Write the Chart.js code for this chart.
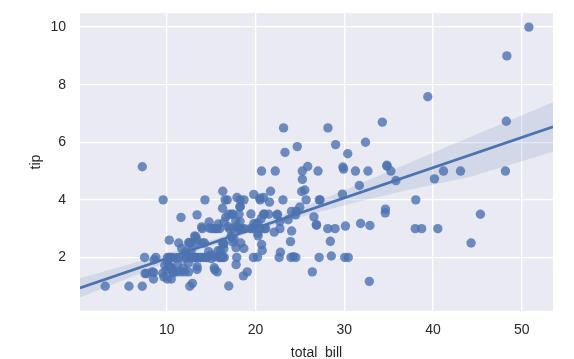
<!DOCTYPE html>
<html>
<head>
<meta charset="utf-8">
<script src="https://cdn.jsdelivr.net/npm/chart.js@4.4.1/dist/chart.umd.min.js"></script>
<style>
  html, body { margin: 0; padding: 0; background: #fff; }
  #wrap { width: 574px; height: 359px; }
</style>
</head>
<body>
<div id="wrap"><canvas id="tipsChart" width="574" height="359"></canvas></div>
<script>
// tips data: total_bill vs tip
var totalBill = [16.99,10.34,21.01,23.68,24.59,25.29,8.77,26.88,15.04,14.78,10.27,35.26,15.42,18.43,14.83,21.58,10.33,16.29,16.97,20.65,
  17.92,20.29,15.77,39.42,19.82,17.81,13.37,12.69,21.7,19.65,9.55,18.35,15.06,20.69,17.78,24.06,16.31,16.93,18.69,31.27,
  16.04,17.46,13.94,9.68,30.4,18.29,22.23,32.4,28.55,18.04,12.54,10.29,34.81,9.94,25.56,19.49,38.01,26.41,11.24,48.27,
  20.29,13.81,11.02,18.29,17.59,20.08,16.45,3.07,20.23,15.01,12.02,17.07,26.86,25.28,14.73,10.51,17.92,27.2,22.76,17.29,
  19.44,16.66,10.07,32.68,15.98,34.83,13.03,18.28,24.71,21.16,28.97,22.49,5.75,16.32,22.75,40.17,27.28,12.03,21.01,12.46,
  11.35,15.38,44.3,22.42,20.92,15.36,20.49,25.21,18.24,14.31,14.0,7.25,38.07,23.95,25.71,17.31,29.93,10.65,12.43,24.08,
  11.69,13.42,14.26,15.95,12.48,29.8,8.52,14.52,11.38,22.82,19.08,20.27,11.17,12.26,18.26,8.51,10.33,14.15,16.0,13.16,
  17.47,34.3,41.19,27.05,16.43,8.35,18.64,11.87,9.78,7.51,14.07,13.13,17.26,24.55,19.77,29.85,48.17,25.0,13.39,16.49,
  21.5,12.66,16.21,13.81,17.51,24.52,20.76,31.71,10.59,10.63,50.81,15.81,7.25,31.85,16.82,32.9,17.89,14.48,9.6,34.63,
  34.65,23.33,45.35,23.17,40.55,20.69,20.9,30.46,18.15,23.1,15.69,19.81,28.44,15.48,16.58,7.56,10.34,43.11,13.0,13.51,
  18.71,12.74,13.0,16.4,20.53,16.47,26.59,38.73,24.27,12.76,30.06,25.89,48.33,13.27,28.17,12.9,28.15,11.59,7.74,30.14,
  12.16,13.42,8.58,15.98,13.42,16.27,10.09,20.45,13.28,22.12,24.01,15.69,11.61,10.77,15.53,10.07,12.6,32.83,35.83,29.03,
  27.18,22.67,17.82,18.78];
var tip = [1.01,1.66,3.5,3.31,3.61,4.71,2.0,3.12,1.96,3.23,1.71,5.0,1.57,3.0,3.02,3.92,1.67,3.71,3.5,3.35,
  4.08,2.75,2.23,7.58,3.18,2.34,2.0,2.0,4.3,3.0,1.45,2.5,3.0,2.45,3.27,3.6,2.0,3.07,2.31,5.0,
  2.24,2.54,3.06,1.32,5.6,3.0,5.0,6.0,2.05,3.0,2.5,2.6,5.2,1.56,4.34,3.51,3.0,1.5,1.76,6.73,
  3.21,2.0,1.98,3.76,2.64,3.15,2.47,1.0,2.01,2.09,1.97,3.0,3.14,5.0,2.2,1.25,3.08,4.0,3.0,2.71,
  3.0,3.4,1.83,5.0,2.03,5.17,2.0,4.0,5.85,3.0,3.0,3.5,1.0,4.3,3.25,4.73,4.0,1.5,3.0,1.5,
  2.5,3.0,2.5,3.48,4.08,1.64,4.06,4.29,3.76,4.0,3.0,1.0,4.0,2.55,4.0,3.5,5.07,1.5,1.8,2.92,
  2.31,1.68,2.5,2.0,2.52,4.2,1.48,2.0,2.0,2.18,1.5,2.83,1.5,2.0,3.25,1.25,2.0,2.0,2.0,2.75,
  3.5,6.7,5.0,5.0,2.3,1.5,1.36,1.63,1.73,2.0,2.5,2.0,2.74,2.0,2.0,5.14,5.0,3.75,2.61,2.0,
  3.5,2.5,2.0,2.0,3.0,3.48,2.24,4.5,1.61,2.0,10.0,3.16,5.15,3.18,4.0,3.11,2.0,2.0,4.0,3.55,
  3.68,5.65,3.5,6.5,3.0,5.0,3.5,2.0,3.5,4.0,1.5,4.19,2.56,2.02,4.0,1.44,2.0,5.0,2.0,2.0,
  4.0,2.01,2.0,2.5,4.0,3.23,3.41,3.0,2.03,2.23,2.0,5.16,9.0,2.5,6.5,1.1,3.0,1.5,1.44,3.09,
  2.2,3.48,1.92,3.0,1.58,2.5,2.0,3.0,2.72,2.88,2.0,3.0,3.39,1.47,3.0,1.25,1.0,1.17,4.67,5.92,
  2.0,2.0,1.75,3.0];

// regression line and its confidence band
var fitX = [0.23, 53.53];
var fitY = [0.94, 6.54];
var bandX = [0.23, 5, 10, 15, 20, 25, 30, 36.3, 44.2, 53.53];
var bandLow = [0.61, 1.20, 1.82, 2.39, 2.92, 3.40, 3.81, 4.28, 4.80, 5.67];
var bandHigh = [1.28, 1.69, 2.12, 2.60, 3.12, 3.70, 4.33, 5.15, 6.18, 7.39];

var xTicks = [10, 20, 30, 40, 50];
var yTicks = [2, 4, 6, 8, 10];

var blue = "#4C72B0";
var textColor = "#262626";

function toPoints(xs, ys) {
  var pts = [];
  for (var i = 0; i < xs.length; i++) pts.push({ x: xs[i], y: ys[i] });
  return pts;
}

// grey plot background like seaborn darkgrid
var plotBg = {
  id: "plotBg",
  beforeDraw: function (chart) {
    var a = chart.chartArea;
    var c = chart.ctx;
    c.save();
    c.fillStyle = "#EAEAF2";
    c.fillRect(a.left, a.top, a.right - a.left, a.bottom - a.top);
    c.restore();
  }
};

var ctx = document.getElementById("tipsChart");

new Chart(ctx, {
  type: "scatter",
  data: {
    datasets: [
      {
        label: "points",
        data: toPoints(totalBill, tip),
        backgroundColor: "rgba(76,114,176,0.8)",
        borderWidth: 0,
        pointRadius: 4.7,
        order: 4
      },
      {
        label: "band low",
        data: toPoints(bandX, bandLow),
        showLine: true,
        borderWidth: 0,
        borderColor: "rgba(0,0,0,0)",
        pointRadius: 0,
        fill: false,
        order: 3
      },
      {
        label: "band high",
        data: toPoints(bandX, bandHigh),
        showLine: true,
        borderWidth: 0,
        borderColor: "rgba(0,0,0,0)",
        backgroundColor: "rgba(76,114,176,0.15)",
        pointRadius: 0,
        fill: "-1",
        order: 2
      },
      {
        label: "fit",
        data: toPoints(fitX, fitY),
        showLine: true,
        borderColor: blue,
        borderWidth: 2.7,
        pointRadius: 0,
        fill: false,
        order: 1
      }
    ]
  },
  options: {
    responsive: false,
    animation: false,
    layout: { padding: { top: 13, right: 21, left: 0, bottom: 0 } },
    plugins: {
      legend: { display: false },
      tooltip: { enabled: false }
    },
    scales: {
      x: {
        type: "linear",
        min: 0.23,
        max: 53.53,
        afterBuildTicks: function (axis) {
          axis.ticks = xTicks.map(function (v) { return { value: v }; });
        },
        afterFit: function (axis) {
          axis.height = 48;
          axis.paddingLeft = 0;
          axis.paddingRight = 0;
        },
        grid: { color: "#ffffff", lineWidth: 1.3, drawTicks: false },
        border: { display: false },
        ticks: { color: textColor, padding: 11, font: { family: "Liberation Sans", size: 14 } },
        title: {
          display: true,
          text: "total_bill",
          color: textColor,
          padding: { top: 0, bottom: -3 },
          font: { family: "Liberation Sans", size: 14 }
        }
      },
      y: {
        type: "linear",
        min: 0.14,
        max: 10.49,
        afterBuildTicks: function (axis) {
          axis.ticks = yTicks.map(function (v) { return { value: v }; });
        },
        afterFit: function (axis) {
          axis.width = 80;
          axis.paddingTop = 0;
          axis.paddingBottom = 0;
        },
        grid: { color: "#ffffff", lineWidth: 1.3, drawTicks: false },
        border: { display: false },
        ticks: { color: textColor, padding: 14, font: { family: "Liberation Sans", size: 14 } },
        title: {
          display: true,
          text: "tip",
          color: textColor,
          padding: { top: 28, bottom: 0 },
          font: { family: "Liberation Sans", size: 14 }
        }
      }
    }
  },
  plugins: [plotBg]
});
</script>
</body>
</html>
